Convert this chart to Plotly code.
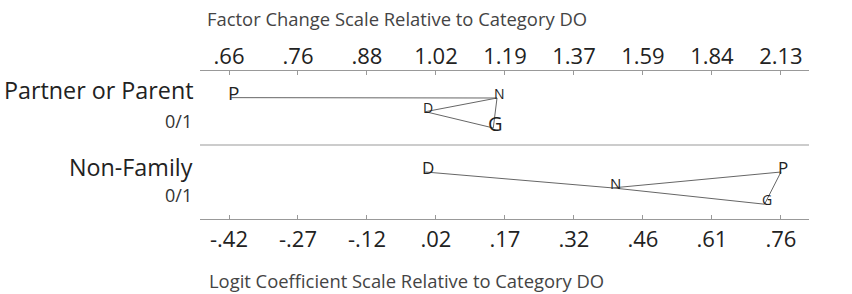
import plotly.graph_objects as go

# ---------------- data ----------------
outcomes = ["D", "N", "G", "P"]            # D = base category (DO)
variables = ["Partner or Parent", "Non-Family"]
var_sub = ["0/1", "0/1"]

# logit coefficients relative to category DO
coef_partner = [0.0, 0.153, 0.145, -0.415]
coef_nonfam = [0.0, 0.400, 0.725, 0.760]

# vertical placement of each letter inside its row (0 = bottom, 1 = top)
pos_partner = [0.45, 0.635, 0.23, 0.64]
pos_nonfam = [0.635, 0.42, 0.20, 0.635]

# letter sizes (proportional to change in probability)
size_partner = [14, 14, 20, 19]
size_nonfam = [17, 15, 14, 17]

# pairs connected by lines (not significantly different)
links_partner = [("P", "N"), ("N", "D"), ("D", "G"), ("N", "G")]
links_nonfam = [("D", "N"), ("N", "G"), ("N", "P"), ("P", "G")]

logit_ticks = [-0.42, -0.2725, -0.125, 0.0225, 0.17, 0.3175, 0.465, 0.6125, 0.76]
logit_labels = ["-.42", "-.27", "-.12", ".02", ".17", ".32", ".46", ".61", ".76"]
factor_labels = [".66", ".76", ".88", "1.02", "1.19", "1.37", "1.59", "1.84", "2.13"]

x_range = [-0.482, 0.820]

FONT = "Open Sans"
fig = go.Figure()

rows = [
    (coef_partner, pos_partner, size_partner, links_partner, 1.0),
    (coef_nonfam, pos_nonfam, size_nonfam, links_nonfam, 0.0),
]

ann = []
for coefs, pos, sizes, links, base in rows:
    idx = {o: i for i, o in enumerate(outcomes)}
    lx, ly = [], []
    for a, b in links:
        lx += [coefs[idx[a]], coefs[idx[b]], None]
        ly += [base + pos[idx[a]], base + pos[idx[b]], None]
    fig.add_trace(go.Scatter(x=lx, y=ly, mode="lines",
                             line=dict(color="#666666", width=1),
                             hoverinfo="skip", showlegend=False))
    for o, c, p, s in zip(outcomes, coefs, pos, sizes):
        ann.append(dict(xref="x", yref="y", x=c, y=base + p, text=o,
                        showarrow=False, xanchor="center", yanchor="middle",
                        xshift=2.5, yshift=4.5,
                        font=dict(family=FONT, size=s, color="#222222")))

# invisible trace for the top (factor change) axis
fig.add_trace(go.Scatter(x=x_range, y=[None, None], xaxis="x2", mode="markers",
                         marker=dict(opacity=0), hoverinfo="skip", showlegend=False))

axis_common = dict(range=x_range, tickmode="array", tickvals=logit_ticks,
                   ticks="inside", ticklen=4, tickcolor="#999999",
                   showline=True, linecolor="#999999", linewidth=1,
                   showgrid=False, zeroline=False,
                   tickfont=dict(family=FONT, size=22, color="#222222"))

fig.update_layout(
    width=852, height=294,
    margin=dict(l=200, r=43, t=71, b=75),
    paper_bgcolor="white", plot_bgcolor="white",
    xaxis=dict(ticktext=logit_labels, side="bottom", ticklabelstandoff=1,
               **axis_common),
    xaxis2=dict(ticktext=factor_labels, side="top", overlaying="x", anchor="y",
                ticklabelstandoff=-3, **axis_common),
    yaxis=dict(range=[0, 2], showticklabels=False, ticks="", showgrid=False,
               zeroline=False, showline=False, fixedrange=True),
    shapes=[dict(type="line", xref="paper", yref="y", x0=0, x1=1, y0=1, y1=1,
                 line=dict(color="#999999", width=1))],
)

for i, (name, sub) in enumerate(zip(variables, var_sub)):
    top = 2 - i
    ann.append(dict(xref="paper", yref="y", x=-0.015, xshift=4,
                    y=top - 0.255 - 0.045 * i,
                    text=name, showarrow=False, xanchor="right", yanchor="middle",
                    font=dict(family=FONT, size=23.3, color="#222222")))
    ann.append(dict(xref="paper", yref="y", x=-0.016, xshift=4, y=top - 0.68,
                    text=sub, showarrow=False, xanchor="right", yanchor="middle",
                    font=dict(family=FONT, size=18, color="#333333")))

ann.append(dict(xref="paper", yref="paper", x=0.008, y=1, yshift=53,
                text="Factor Change Scale Relative to Category DO",
                showarrow=False, xanchor="left", yanchor="middle",
                font=dict(family=FONT, size=18.4, color="#444444")))
ann.append(dict(xref="paper", yref="paper", x=0.011, y=0, yshift=-61,
                text="Logit Coefficient Scale Relative to Category DO",
                showarrow=False, xanchor="left", yanchor="middle",
                font=dict(family=FONT, size=18.4, color="#444444")))
fig.update_layout(annotations=ann)

# remove the default 8px page margin so the figure fills the window exactly
fig.write_html("out.html",
               config={"displayModeBar": False},
               post_script="document.body.style.margin='0px';"
                           "document.body.style.overflow='hidden';")
